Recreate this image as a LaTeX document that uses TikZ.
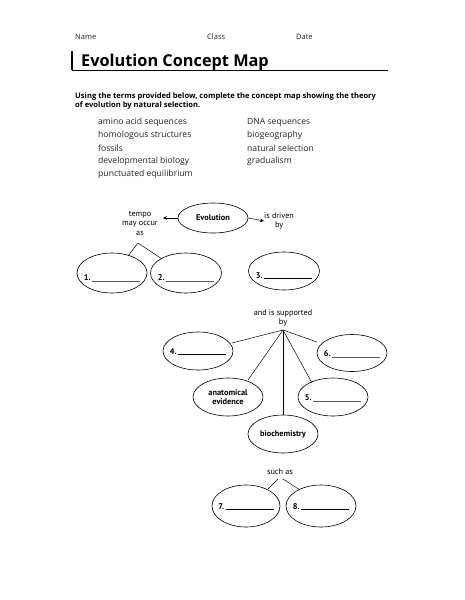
\documentclass[tikz,border=0pt]{standalone}
\usepackage{fontspec}
\setmainfont{Open Sans}
\newfontfamily\mapfont{PT Sans}
\usetikzlibrary{shapes.geometric,arrows.meta}
\begin{document}
\begin{tikzpicture}[x=1pt,y=-1pt,
  bubble/.style={draw, ellipse, line width=0.6pt, inner sep=0pt},
  lbl/.style={font=\mapfont\fontsize{8.2}{9.5}\selectfont, align=center, inner sep=0pt},
  bl/.style={font=\mapfont\bfseries\fontsize{8.3}{9.5}\selectfont, align=center, inner sep=0pt},
  conn/.style={line width=0.5pt},
  hdr/.style={anchor=west, font=\fontsize{7.5}{9}\selectfont, inner sep=0pt, text=black!85},
  term/.style={anchor=west, font=\fontsize{8.6}{10}\selectfont, inner sep=0pt, text=black!85}]
\useasboundingbox[fill=white] (0,0) rectangle (464,600);
\newcommand{\blankthin}{\textcolor{black!65}{\rule[-1pt]{48pt}{0.5pt}}}
\newcommand{\blankthick}{\rule[-1pt]{48pt}{0.9pt}}

% header
\node[hdr] (name) at (75,37) {Name};
\node[hdr] (class) at (207,37) {Class};
\node[hdr] (date) at (296,37) {Date};
\draw[line width=1.3pt] (72,51) -- (72,70);
\draw[line width=0.6pt] (72,70) -- (388,70);
\node[anchor=base west, inner sep=0pt, font=\bfseries\fontsize{16.3}{20}\selectfont] (title) at (81,66) {Evolution Concept Map};

\node[anchor=west, inner sep=0pt, align=left, font=\bfseries\fontsize{7.6}{9}\selectfont] (instr) at (75,101)
  {Using the terms provided below, complete the concept map showing the theory\\of evolution by natural selection.};

% terms
\node[term] (t1) at (98,122) {amino acid sequences};
\node[term] (t2) at (98,135) {homologous structures};
\node[term] (t3) at (98,148) {fossils};
\node[term] (t4) at (98,161) {developmental biology};
\node[term] (t5) at (98,174) {punctuated equilibrium};
\node[term] (t6) at (247,122) {DNA sequences};
\node[term] (t7) at (247,135) {biogeography};
\node[term] (t8) at (247,148) {natural selection};
\node[term] (t9) at (247,161) {gradualism};

% top level
\node[bubble, minimum width=70pt, minimum height=30pt] (evo) at (213,218) {};
\node[bl] (evot) at (evo.center) {Evolution};
\node[lbl] (tempo) at (140,223) {tempo\\may occur\\as};
\node[lbl, anchor=west] (driven) at (264,221) {is driven\\by};
\draw[conn, -{Stealth[length=4pt,width=3.5pt]}] (evo.west) -- (163,218);
\draw[conn, -{Stealth[length=4pt,width=3.5pt]}] (evo.east) -- (driven.west);

\coordinate (tap) at (138,243);
\node[bubble, minimum width=70pt, minimum height=40pt] (e1) at (112,273) {};
\node[bubble, minimum width=71pt, minimum height=40pt] (e2) at (186,273) {};
\node[bubble, minimum width=71pt, minimum height=38pt] (e3) at (284,271) {};
\node[bl, anchor=base] (l1) at ([yshift=-7pt]e1.center) {1.\,\blankthin};
\node[bl, anchor=base] (l2) at ([yshift=-7pt]e2.center) {2.\,\blankthin};
\node[bl, anchor=base] (l3) at ([yshift=-7pt]e3.center) {3.\,\blankthick};
\draw[conn] (tap) -- (128,256);
\draw[conn] (tap) -- (162,259);

% supported by
\node[lbl] (supp) at (283,318) {and is supported\\by};
\coordinate (sap) at (283,330);
\node[bubble, minimum width=70pt, minimum height=38pt] (e4) at (198,351) {};
\node[bubble, minimum width=70pt, minimum height=37pt] (e6) at (352,353) {};
\node[bubble, minimum width=70pt, minimum height=38pt] (anat) at (228,397) {};
\node[bubble, minimum width=70pt, minimum height=38pt] (e5) at (333,397) {};
\node[bubble, minimum width=70pt, minimum height=38pt] (bio) at (283,434) {};
\node[bl, anchor=base] (l4) at ([yshift=-3pt]e4.center) {4.\,\blankthick};
\node[bl, anchor=base] (l6) at ([yshift=-3pt]e6.center) {6.\,\blankthin};
\node[bl, anchor=base] (l5) at ([yshift=-3pt]e5.center) {5.\,\blankthin};
\node[bl] (anatt) at (anat.center) {anatomical\\evidence};
\node[bl] (biot) at (bio.center) {biochemistry};
\draw[conn] (sap) -- (232,343);
\draw[conn] (sap) -- (317,342);
\draw[conn] (sap) -- (248,380);
\draw[conn] (sap) -- (312,383);
\draw[conn] (sap) -- (bio.north);

% such as
\node[lbl] (such) at (280,472) {such as};
\coordinate (cap1) at (278,479);
\coordinate (cap2) at (283,479);
\node[bubble, minimum width=68pt, minimum height=42pt] (e7) at (246,506) {};
\node[bubble, minimum width=70pt, minimum height=42pt] (e8) at (321,506) {};
\node[bl, anchor=base] (l7) at ([yshift=-3pt]e7.center) {7.\,\blankthick};
\node[bl, anchor=base] (l8) at ([yshift=-3pt]e8.center) {8.\,\blankthick};
\draw[conn] (cap1) -- (268,489);
\draw[conn] (cap2) -- (300,490);
\end{tikzpicture}
\end{document}
